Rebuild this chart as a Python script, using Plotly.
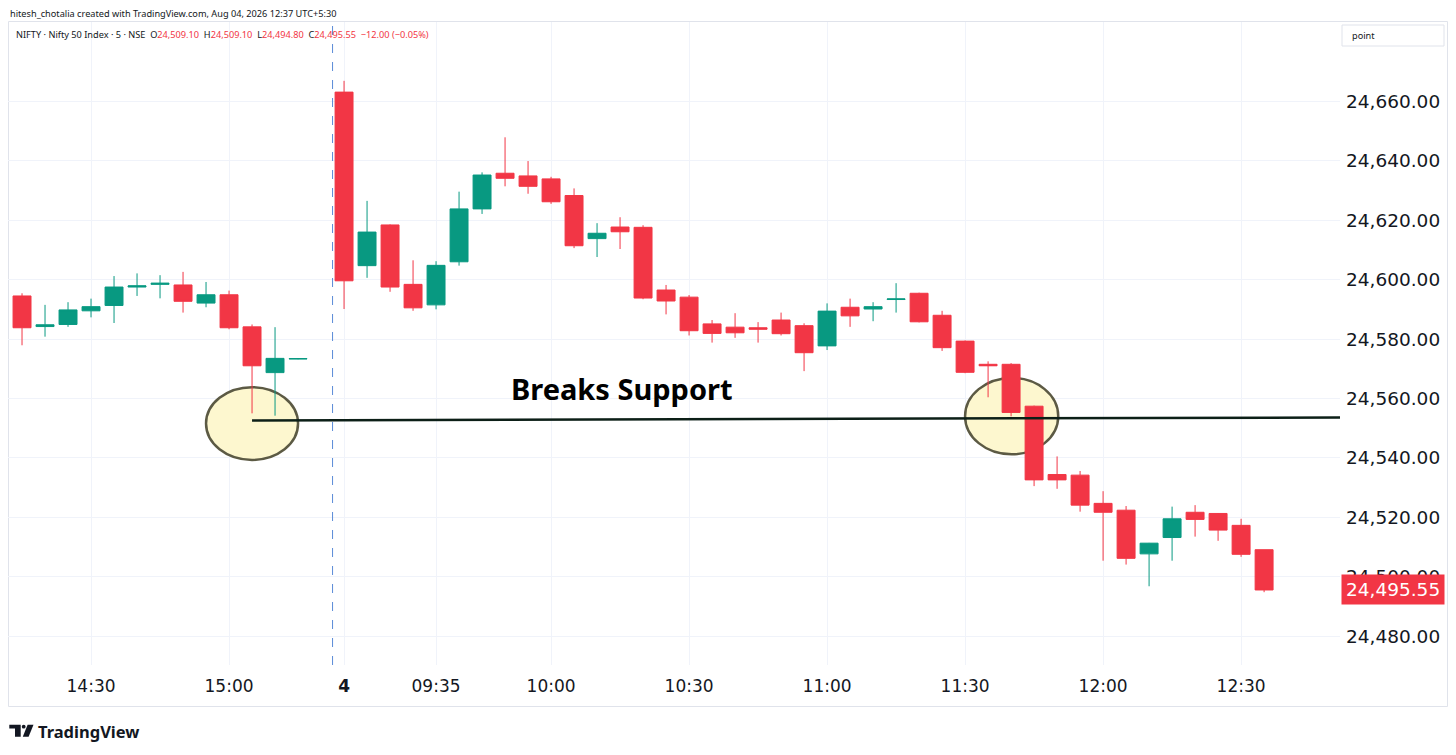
import plotly.graph_objects as go

# NIFTY 5 minute candles, 03 Aug (afternoon) and 04 Aug (morning)
times = ['03 14:15', '03 14:20', '03 14:25', '03 14:30', '03 14:35', '03 14:40', '03 14:45',
         '03 14:50', '03 14:55', '03 15:00', '03 15:05', '03 15:10', '03 15:15',
         '04 09:15', '04 09:20', '04 09:25', '04 09:30', '04 09:35', '04 09:40', '04 09:45',
         '04 09:50', '04 09:55', '04 10:00', '04 10:05', '04 10:10', '04 10:15', '04 10:20',
         '04 10:25', '04 10:30', '04 10:35', '04 10:40', '04 10:45', '04 10:50', '04 10:55',
         '04 11:00', '04 11:05', '04 11:10', '04 11:15', '04 11:20', '04 11:25', '04 11:30',
         '04 11:35', '04 11:40', '04 11:45', '04 11:50', '04 11:55', '04 12:00', '04 12:05',
         '04 12:10', '04 12:15', '04 12:20', '04 12:25', '04 12:30', '04 12:35']

opens = [24594.5, 24584.2, 24584.9, 24589.5, 24591.3, 24597.5, 24598.4,
         24598.2, 24592.1, 24594.9, 24584.1, 24568.7, 24573.3,
         24663.1, 24604.7, 24618.4, 24598.4, 24591.5, 24606.0, 24623.8,
         24635.8, 24634.9, 24633.9, 24628.3, 24613.8, 24617.7, 24617.6,
         24596.5, 24594.1, 24585.1, 24584.0, 24583.8, 24586.4, 24584.5,
         24577.7, 24590.7, 24590.1, 24593.3, 24595.4, 24588.0, 24579.3,
         24571.5, 24571.5, 24557.4, 24534.4, 24534.2, 24524.7, 24522.4,
         24507.7, 24513.2, 24521.7, 24521.3, 24517.3, 24509.10]

highs = [24595.4, 24591.5, 24592.4, 24593.6, 24601.2, 24602.1, 24601.5,
         24602.6, 24599.2, 24596.3, 24584.9, 24584.0, 24573.4,
         24666.9, 24626.5, 24618.6, 24606.5, 24606.2, 24629.6, 24636.1,
         24647.9, 24639.9, 24634.6, 24630.7, 24619.0, 24621.0, 24618.3,
         24598.2, 24594.8, 24586.4, 24588.7, 24585.7, 24588.9, 24585.3,
         24592.0, 24593.6, 24592.4, 24598.8, 24595.6, 24589.5, 24579.5,
         24572.5, 24571.9, 24557.6, 24540.5, 24535.6, 24528.8, 24523.8,
         24511.4, 24523.6, 24524.1, 24521.4, 24519.5, 24509.10]

lows = [24577.9, 24580.8, 24584.1, 24587.3, 24585.4, 24594.5, 24593.7,
        24588.9, 24590.7, 24583.3, 24555.0, 24554.2, 24573.2,
        24590.1, 24600.6, 24595.9, 24589.5, 24590.0, 24604.7, 24622.1,
        24631.4, 24628.9, 24625.5, 24610.6, 24607.6, 24610.3, 24593.4,
        24588.3, 24581.2, 24578.8, 24580.4, 24578.8, 24581.2, 24569.2,
        24576.3, 24584.1, 24586.0, 24588.9, 24585.6, 24576.0, 24568.5,
        24560.4, 24554.0, 24530.5, 24529.6, 24521.9, 24505.4, 24504.1,
        24496.8, 24505.4, 24513.5, 24512.1, 24506.7, 24494.80]

closes = [24583.8, 24584.8, 24589.8, 24590.9, 24597.5, 24597.9, 24598.8,
          24592.7, 24594.9, 24583.8, 24571.0, 24573.5, 24573.4,
          24599.6, 24616.0, 24597.5, 24590.5, 24604.8, 24623.8, 24635.2,
          24634.1, 24631.4, 24626.2, 24611.4, 24615.6, 24616.1, 24593.8,
          24592.8, 24582.8, 24581.9, 24582.1, 24583.3, 24581.8, 24575.4,
          24589.4, 24587.8, 24590.9, 24593.5, 24585.8, 24577.1, 24568.8,
          24571.0, 24555.3, 24532.6, 24532.6, 24524.1, 24521.7, 24506.2,
          24511.3, 24519.5, 24519.3, 24515.7, 24507.55, 24495.55]

# slot order on the time axis (one empty slot at the session break)
slots = times[:13] + ['03 15:20'] + times[13:]

# time axis labels
tick_slots = ['03 14:30', '03 15:00', '04 09:15', '04 09:35', '04 10:00', '04 10:30',
              '04 11:00', '04 11:30', '04 12:00', '04 12:30']
tick_text = ['14:30', '15:00', '<b>4</b>', '09:35', '10:00', '10:30',
             '11:00', '11:30', '12:00', '12:30']

price_ticks = [24480, 24500, 24520, 24540, 24560, 24580, 24600, 24620, 24640, 24660]

support_level = [24552.6, 24553.6]

RED = '#F23645'
GREEN = '#089981'
INK = '#131722'

# figure geometry; the page adds an 8px body margin, so page pixel = figure pixel + 8
OFF = 8
W, H = 1440, 739
ML, MR, MT, MB = 0, 108, 14, 82
PW, PH = W - ML - MR, H - MT - MB


def px(x):
    # page x pixel -> paper x
    return (x - OFF - ML) / PW


def py(y):
    # page y pixel -> paper y
    return (H - MB - (y - OFF)) / PH


fig = go.Figure()

fig.add_trace(go.Candlestick(
    x=times, open=opens, high=highs, low=lows, close=closes,
    increasing=dict(line=dict(color=GREEN, width=1), fillcolor=GREEN),
    decreasing=dict(line=dict(color=RED, width=1), fillcolor=RED),
    whiskerwidth=0, hoverinfo='skip', showlegend=False))

# highlighted zones around the support touches
for x0, x1, y0, y1 in [(8.0, 12.0, 24539.3, 24563.8), (41.0, 45.05, 24541.2, 24566.9)]:
    fig.add_shape(type='circle', xref='x', yref='y', x0=x0, x1=x1, y0=y0, y1=y1,
                  fillcolor='#fdf7cf', line=dict(color='#5c5a44', width=2.5), layer='between')

# support line
fig.add_shape(type='line', xref='x', yref='y', x0=10, x1=57.3,
              y0=support_level[0], y1=support_level[1],
              line=dict(color='#0c1f17', width=2.5), layer='above')

# session break
fig.add_shape(type='line', xref='x', yref='paper', x0=13.5, x1=13.5, y0=0, y1=1,
              line=dict(color='#5b8bd8', width=1, dash='dash'))

fig.add_annotation(x=26.1, y=24563.5, xref='x', yref='y', text='<b>Breaks Support</b>',
                   showarrow=False, font=dict(family='Noto Sans', size=29, color='#000000'))

# last price marker
last = closes[-1]
fig.add_annotation(x=1.0, xref='paper', y=last, yref='y', xanchor='left', xshift=1,
                   text=f'{last:,.2f}', showarrow=False, bgcolor=RED, borderpad=4,
                   font=dict(family='DejaVu Sans', size=18.5, color='white'))

# header lines
fig.add_annotation(x=px(8), y=py(13), xref='paper', yref='paper', xanchor='left', yanchor='middle',
                   text='hitesh_chotalia created with TradingView.com, Aug 04, 2026 12:37 UTC+5:30',
                   showarrow=False, font=dict(family='Noto Sans', size=9.2, color=INK))

chg = closes[-1] - closes[-2]
pct = chg / closes[-2] * 100
sp = '\u00a0'


def red(s):
    return f'<span style="color:{RED}">{s}</span>'


legend_line = ('NIFTY · Nifty 50 Index · 5 · NSE' + sp * 2 +
               'O' + red(f'{opens[-1]:,.2f}') + sp * 2 +
               'H' + red(f'{highs[-1]:,.2f}') + sp * 2 +
               'L' + red(f'{lows[-1]:,.2f}') + sp * 2 +
               'C' + red(f'{closes[-1]:,.2f}' + sp * 2 +
                         f'{chg:+.2f} ({pct:+.2f}%)'.replace('-', '\u2212')))
fig.add_annotation(x=px(14), y=py(34), xref='paper', yref='paper', xanchor='left', yanchor='middle',
                   text=legend_line, showarrow=False,
                   font=dict(family='Noto Sans', size=9.2, color=INK))

# "point" box in the top-right corner
fig.add_shape(type='rect', xref='paper', yref='paper', x0=px(1342), x1=px(1444), y0=py(46), y1=py(25),
              fillcolor='white', line=dict(color='#e0e3eb', width=1))
fig.add_annotation(x=px(1350), y=py(35.5), xref='paper', yref='paper', xanchor='left', yanchor='middle',
                   text='point', showarrow=False, font=dict(family='Noto Sans', size=9.2, color=INK))

# chart frame
fig.add_shape(type='rect', xref='paper', yref='paper', x0=px(8.5), x1=px(1447.5), y0=py(706.5), y1=py(21.5),
              line=dict(color='#e0e3eb', width=1), layer='below')

# TradingView logo
fig.add_shape(type='path', xref='paper', yref='paper', fillcolor=INK, line=dict(width=0),
              path=f'M {px(9.3)} {py(724.7)} L {px(20.7)} {py(724.7)} L {px(20.7)} {py(736.7)} '
                   f'L {px(15.0)} {py(736.7)} L {px(15.0)} {py(728.6)} L {px(9.3)} {py(728.6)} Z')
fig.add_shape(type='path', xref='paper', yref='paper', fillcolor=INK, line=dict(width=0),
              path=f'M {px(27.6)} {py(724.7)} L {px(33.5)} {py(724.7)} L {px(28.6)} {py(736.7)} '
                   f'L {px(22.8)} {py(736.7)} Z')
fig.add_shape(type='circle', xref='paper', yref='paper', fillcolor=INK, line=dict(width=0),
              x0=px(21.8), x1=px(25.6), y0=py(728.6), y1=py(724.8))
fig.add_annotation(x=px(36), y=py(731), xref='paper', yref='paper', xanchor='left', yanchor='middle',
                   text='<b>TradingView</b>', showarrow=False,
                   font=dict(family='Noto Sans', size=16.5, color=INK))

fig.update_layout(
    width=W, height=H,
    margin=dict(l=ML, r=MR, t=MT, b=MB),
    paper_bgcolor='white', plot_bgcolor='white',
    boxgap=0.22, boxgroupgap=0,
    xaxis=dict(type='category', categoryorder='array', categoryarray=slots,
               range=[-0.61, 57.3], rangeslider=dict(visible=False),
               tickmode='array', tickvals=tick_slots, ticktext=tick_text,
               showgrid=True, gridcolor='#f0f3fa', gridwidth=1, zeroline=False, showline=False,
               ticks='', ticklabelstandoff=9,
               tickfont=dict(family='DejaVu Sans', size=17, color=INK)),
    yaxis=dict(side='right', range=[24470.3, 24686.7], tickmode='array', tickvals=price_ticks,
               tickformat=',.2f', showgrid=True, gridcolor='#f0f3fa', gridwidth=1,
               zeroline=False, showline=False, ticks='', ticklabelstandoff=5,
               tickfont=dict(family='DejaVu Sans', size=18.5, color=INK)),
    font=dict(family='Noto Sans', color=INK),
)

fig.write_html('out.html')
